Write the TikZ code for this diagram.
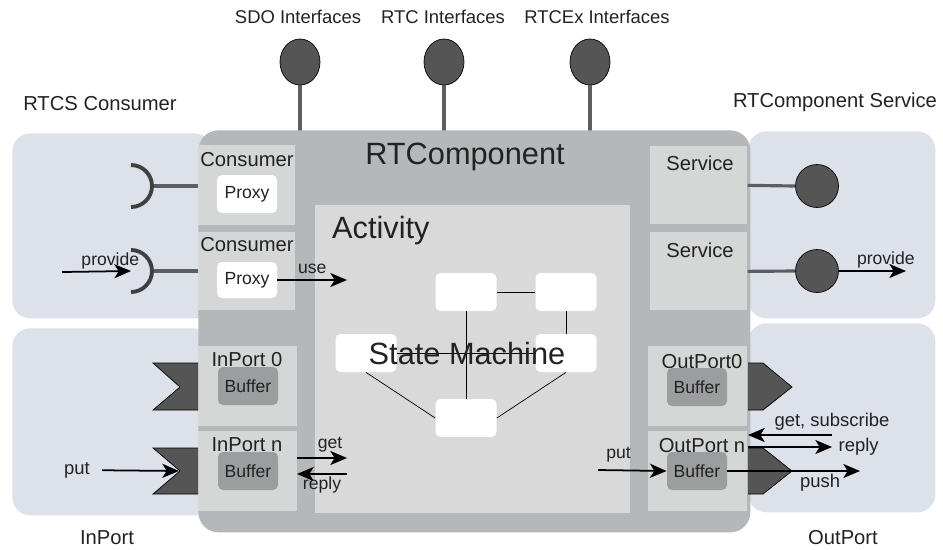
\documentclass[tikz,border=0pt]{standalone}
\usepackage{fontspec}
\setmainfont{Liberation Sans}
\usetikzlibrary{shapes.geometric,arrows.meta}
\definecolor{bluebg}{HTML}{DDE1EA}
\definecolor{compgray}{HTML}{B5B8BA}
\definecolor{panelgray}{HTML}{D5D6D6}
\definecolor{actgray}{HTML}{D8D9D8}
\definecolor{bufgray}{HTML}{9C9D9E}
\definecolor{ifdark}{HTML}{555555}
\definecolor{stemgray}{HTML}{5E5E5E}
\definecolor{txt}{HTML}{222222}
\newcommand\fsmall{\fontsize{10}{12}\selectfont}
\newcommand\fmid{\fontsize{11.5}{13}\selectfont}
\newcommand\fbig{\fontsize{17.5}{20}\selectfont}
\begin{document}
\begin{tikzpicture}[x=0.02cm,y=-0.02cm,
  area/.style={fill=bluebg,rounded corners=18*\pxl,anchor=north west},
  panel/.style={fill=panelgray,anchor=north west},
  whitebox/.style={fill=white,rounded corners=5*\pxl,minimum width=60*\pxl},
  buf/.style={fill=bufgray,rounded corners=5*\pxl,minimum width=60*\pxl,minimum height=38*\pxl,font=\fsmall,text=txt},
  state/.style={fill=white,rounded corners=5*\pxl,minimum width=61*\pxl,minimum height=38*\pxl},
  iface/.style={ellipse,fill=ifdark,draw=black,thin,minimum width=40*\pxl,minimum height=46*\pxl,inner sep=0pt},
  lolli/.style={circle,fill=ifdark,draw=black,thin,minimum size=43*\pxl,inner sep=0pt},
  stem/.style={draw=stemgray,line width=1.8pt},
  socket/.style={draw=black!75,line width=2.2pt},
  arr/.style={-{Stealth[length=9.5pt,width=8pt,inset=2.5pt]},line width=1pt},
  lbl/.style={font=\fmid,text=txt},
  small/.style={font=\fsmall,text=txt}]
\def\pxl{0.02cm}
\useasboundingbox (0,0) rectangle (943,549);

% areas outside the component
\node[area,minimum width=200*\pxl,minimum height=185*\pxl] (consArea) at (12,133) {};
\node[area,minimum width=200*\pxl,minimum height=187*\pxl] (inArea) at (12,328) {};
\node[area,minimum width=187*\pxl,minimum height=187*\pxl] (svcArea) at (748,131) {};
\node[area,minimum width=187*\pxl,minimum height=189*\pxl] (outArea) at (748,323) {};
\node[lbl] (consLbl) at (100,104) {RTCS Consumer};
\node[lbl] (svcLbl) at (835,102) {RTComponent Service};
\node[lbl] (inLbl) at (107,538) {InPort};
\node[lbl] (outLbl) at (843,538) {OutPort};

% interfaces on top
\node[small,font=\fontsize{10.5}{12}\selectfont] (sdoLbl) at (298,17) {SDO Interfaces};
\node[small,font=\fontsize{10.5}{12}\selectfont] (rtcLbl) at (443,17) {RTC Interfaces};
\node[small,font=\fontsize{10.5}{12}\selectfont] (rtcexLbl) at (597,17) {RTCEx Interfaces};
\node[iface] (sdo) at (300,62) {};
\node[iface] (rtcI) at (444,62) {};
\node[iface] (rtcex) at (590,62) {};
\draw[stem] (sdo.south) -- ++(0,46);
\draw[stem] (rtcI.south) -- ++(0,46);
\draw[stem] (rtcex.south) -- ++(0,46);

% the component
\node[fill=compgray,rounded corners=20*\pxl,anchor=north west,minimum width=552*\pxl,minimum height=402*\pxl] (rtc) at (198,130) {};
\node[font=\fbig,text=txt] (rtcTitle) at (465,157) {RTComponent};
\node[fill=actgray,anchor=north west,minimum width=315*\pxl,minimum height=308*\pxl] (act) at (315,205) {};
\node[font=\fbig,text=txt,anchor=west] (actTitle) at (326,231) {Activity};

% panels
\node[panel,minimum width=97*\pxl,minimum height=80*\pxl] (cons1) at (198,145) {};
\node[panel,minimum width=97*\pxl,minimum height=78*\pxl] (cons2) at (198,232) {};
\node[panel,minimum width=99*\pxl,minimum height=80*\pxl] (inP0) at (198,346) {};
\node[panel,minimum width=99*\pxl,minimum height=80*\pxl] (inPn) at (198,431) {};
\node[panel,minimum width=97*\pxl,minimum height=78*\pxl] (svc1) at (650,146) {};
\node[panel,minimum width=97*\pxl,minimum height=78*\pxl] (svc2) at (650,232) {};
\node[panel,minimum width=99*\pxl,minimum height=80*\pxl] (outP0) at (648,346) {};
\node[panel,minimum width=99*\pxl,minimum height=80*\pxl] (outPn) at (648,431) {};
\node[lbl] at (247,160) {Consumer};
\node[lbl] at (247,245) {Consumer};
\node[lbl] at (700,163) {Service};
\node[lbl] at (700,250) {Service};
\node[lbl] at (247,360) {InPort 0};
\node[lbl] at (247,445) {InPort n};
\node[lbl] at (702,362) {OutPort0};
\node[lbl] at (702,446) {OutPort n};
\node[whitebox,minimum height=38*\pxl,small] (prx1) at (247,194) {Proxy};
\node[whitebox,minimum height=36*\pxl,small] (prx2) at (247,280) {Proxy};
\node[buf] (bufI0) at (248,386) {Buffer};
\node[buf] (bufIn) at (248,471) {Buffer};
\node[buf] (bufO0) at (697,387) {Buffer};
\node[buf] (bufOn) at (697,471) {Buffer};

% consumer sockets
\coordinate (sock1) at (131,186);
\coordinate (sock2) at (131,271);
\draw[stem] ([xshift=21*\pxl]sock1) -- (sock1 -| cons1.west);
\draw[stem] ([xshift=21*\pxl]sock2) -- (sock2 -| cons2.west);
\draw[socket] (sock1) ++(0,-21) arc[start angle=90,end angle=-90,radius=21*\pxl];
\draw[socket] (sock2) ++(0,-21) arc[start angle=90,end angle=-90,radius=21*\pxl];
\coordinate (provL) at (62,272);
\draw[arr] (provL) -- (sock2) node[small,pos=0.7,above,inner sep=1pt] {provide};
\coordinate (useEnd) at (347,280);
\draw[arr] (prx2.east) -- (useEnd) node[small,midway,above] {use};

% service lollipops
\node[lolli] (svcP1) at (817,186) {};
\node[lolli] (svcP2) at (817,271) {};
\draw[stem] (svc1.east) -- (svcP1.west);
\draw[stem] (svc2.east) -- (svcP2.west);
\coordinate (provR) at (906,271);
\draw[arr] (svcP2.east) -- (provR) node[small,pos=0.7,above,inner sep=1pt] {provide};

% data ports
\fill[ifdark] (153,363) -- (198,363) -- (198,410) -- (153,410) -- (180,387) -- cycle;
\draw[black,thin] (198,363) -- (153,363) -- (180,387) -- (153,410) -- (198,410);
\fill[ifdark] (153,448) -- (198,448) -- (198,494) -- (153,494) -- (180,471) -- cycle;
\draw[black,thin] (198,448) -- (153,448) -- (180,471) -- (153,494) -- (198,494);
\fill[ifdark] (748,363) -- (763,363) -- (792,387) -- (763,410) -- (748,410) -- cycle;
\draw[black,thin] (748,363) -- (763,363) -- (792,387) -- (763,410) -- (748,410);
\fill[ifdark] (748,448) -- (763,448) -- (792,471) -- (763,494) -- (748,494) -- cycle;
\draw[black,thin] (748,448) -- (763,448) -- (792,471) -- (763,494) -- (748,494);
\coordinate (inNotch) at (179,471);

\node[small,font=\fontsize{10.5}{12}\selectfont] (putLbl) at (77,470) {put};
\draw[arr,shorten <=6*\pxl] (putLbl) -- (inNotch);
\coordinate (getA) at (297,458);
\coordinate (getB) at (347,458);
\coordinate (repA) at (347,474);
\coordinate (repB) at (297,474);
\draw[arr] (getA) -- (getB) node[small,pos=0.66,above,inner sep=3pt] {get};
\draw[arr] (repA) -- (repB) node[small,midway,below,inner sep=1pt] {reply};

\coordinate (putRS) at (598,470);
\draw[arr] (putRS) -- (bufOn.west) node[small,pos=0.3,above,inner sep=4pt] {put};
\coordinate (gsR) at (832,435);
\coordinate (gsL) at (748,435);
\coordinate (rpL) at (748,447);
\coordinate (rpR) at (832,447);
\coordinate (pushEnd) at (860,471);
\draw[arr] (gsR) -- (gsL) node[small,pos=0,above,inner sep=2pt,font=\fontsize{10.5}{12}\selectfont] {get, subscribe};
\draw[arr] (rpL) -- (rpR) node[small,right,font=\fontsize{10.5}{12}\selectfont] {reply};
\draw[arr] (bufOn.east) -- (pushEnd) node[small,pos=0.7,below,inner sep=1pt,font=\fontsize{10.5}{12}\selectfont] {push};

% state machine
\node[state] (sA) at (466,292) {};
\node[state] (sB) at (566,292) {};
\node[state] (sC) at (366,353) {};
\node[state] (sD) at (566,353) {};
\node[state] (sE) at (466,418) {};
\draw[thin] (sA.east) -- (sB.west);
\draw[thin] (sA.south) -- (sE.north);
\draw[thin] (sB.south) -- (sD.north);
\draw[thin] (sC.east) -- (sD.west);
\draw[thin] (sC.south) -- (sE.west);
\draw[thin] (sD.south) -- (sE.east);
\node[font=\fbig,text=txt] (smLbl) at (467,353) {State Machine};
\end{tikzpicture}
\end{document}
